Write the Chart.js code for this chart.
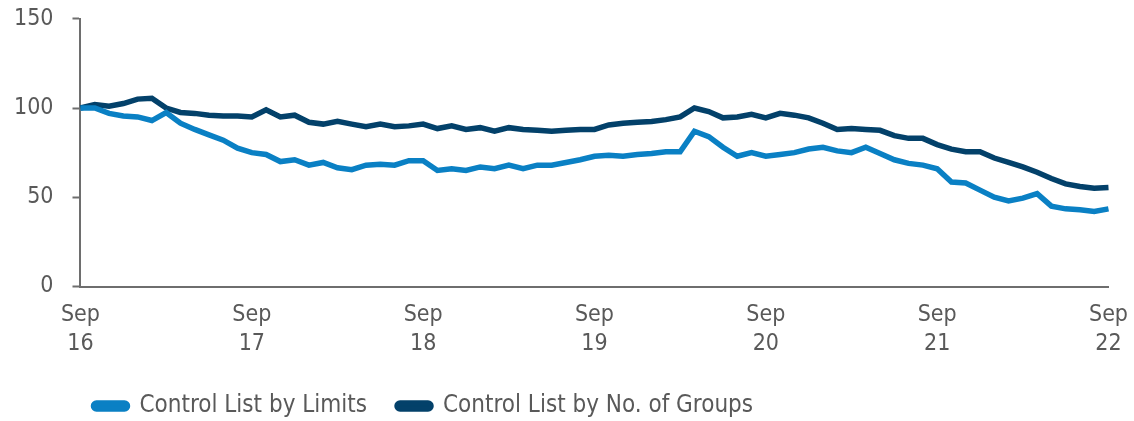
<!DOCTYPE html>
<html>
<head>
<meta charset="utf-8">
<title>Control List</title>
<script src="https://cdn.jsdelivr.net/npm/chart.js@4/dist/chart.umd.min.js"></script>
<style>
  html, body { margin: 0; padding: 0; background: #fff; overflow: hidden; }
  #chart { display: block; margin-top: -14px; }
</style>
</head>
<body>
<canvas id="chart" width="1134" height="435"></canvas>
<script>
// years shown under each September tick
const yearTicks = ["16", "17", "18", "19", "20", "21", "22"];
const monthNames = ["Sep", "Oct", "Nov", "Dec", "Jan", "Feb", "Mar", "Apr", "May", "Jun", "Jul", "Aug"];

// index, Sep 2016 = 100
const byLimits = [
  100, 100, 97, 95.5, 95, 93, 97.5, 91.5, 88, 85, 82, 77.5,
  75, 74, 70, 71, 68, 69.5, 66.5, 65.5, 68, 68.5, 68, 70.5,
  70.5, 65, 66, 65, 67, 66, 68, 66, 68, 68, 69.5, 71,
  73, 73.5, 73, 74, 74.5, 75.5, 75.5, 87, 84, 78, 73, 75,
  73, 74, 75, 77, 78, 76, 75, 78, 74.5, 71, 69, 68,
  66, 58.5, 58, 54, 50, 48, 49.5, 52, 45, 43.5, 43, 42,
  43.5
];
const byGroups = [
  100, 102, 101, 102.5, 105, 105.5, 100, 97.5, 97, 96, 95.5, 95.5,
  95, 99, 95, 96, 92, 91, 92.5, 91, 89.5, 91, 89.5, 90,
  91, 88.5, 90, 88, 89, 87, 89, 88, 87.5, 87, 87.5, 88,
  88, 90.5, 91.5, 92, 92.5, 93.5, 95, 100, 98, 94.5, 95, 96.5,
  94.5, 97, 96, 94.5, 91.5, 88, 88.5, 88, 87.5, 84.5, 83, 83,
  79.5, 77, 75.5, 75.5, 72, 69.5, 67, 64, 60.5, 57.5, 56, 55,
  55.5
];

// monthly category labels, Sep 16 .. Sep 22
const labels = byLimits.map((_, i) => {
  const yr = yearTicks[0] * 1 + Math.floor((i + 8) / 12);
  return monthNames[i % 12] + " " + yr;
});

const grey = "#595959";
const axisGrey = "#6e6e6e";
const fontFamily = "'Liberation Sans Narrow', 'DejaVu Sans Condensed', 'Roboto Condensed', 'Open Sans', sans-serif";

// pull the legend a little to the left of the plot edge
const legendShift = {
  id: "legendShift",
  afterLayout(chart) {
    chart.legend.left -= 17;
    chart.legend.right -= 17;
  },
};

const ctx = document.getElementById("chart").getContext("2d");

new Chart(ctx, {
  type: "line",
  data: {
    labels: labels,
    datasets: [
      {
        label: "Control List by Limits",
        data: byLimits,
        borderColor: "#0a80c4",
        backgroundColor: "#0a80c4",
        borderWidth: 5.5,
        pointRadius: 0,
        tension: 0,
      },
      {
        label: "Control List by No. of Groups",
        data: byGroups,
        borderColor: "#03416a",
        backgroundColor: "#03416a",
        borderWidth: 5.5,
        pointRadius: 0,
        tension: 0,
      },
    ],
  },
  options: {
    responsive: false,
    animation: false,
    layout: { padding: { top: -7, right: 23, left: -5, bottom: -7 } },
    plugins: {
      tooltip: { enabled: false },
      legend: {
        position: "bottom",
        align: "start",
        fullSize: false,
        labels: {
          color: grey,
          font: { family: fontFamily, size: 24 },
          boxWidth: 34,
          boxHeight: 6,
          useBorderRadius: true,
          borderRadius: 3,
          padding: 30,
        },
      },
    },
    scales: {
      x: {
        offset: false,
        border: { display: true, color: axisGrey, width: 2 },
        grid: { display: false },
        ticks: {
          autoSkip: false,
          maxRotation: 0,
          color: grey,
          padding: 6,
          font: { family: fontFamily, size: 23, lineHeight: 1.25 },
          callback: (val, i) => (i % 12 === 0 ? ["Sep", yearTicks[i / 12]] : null),
        },
      },
      y: {
        min: 0,
        max: 150,
        border: { display: true, color: axisGrey, width: 2 },
        grid: {
          drawOnChartArea: false,
          drawTicks: true,
          tickLength: 8,
          tickWidth: 2,
          color: axisGrey,
        },
        ticks: {
          stepSize: 50,
          color: grey,
          padding: 19,
          font: { family: fontFamily, size: 23 },
        },
      },
    },
  },
  plugins: [legendShift],
});
</script>
</body>
</html>
